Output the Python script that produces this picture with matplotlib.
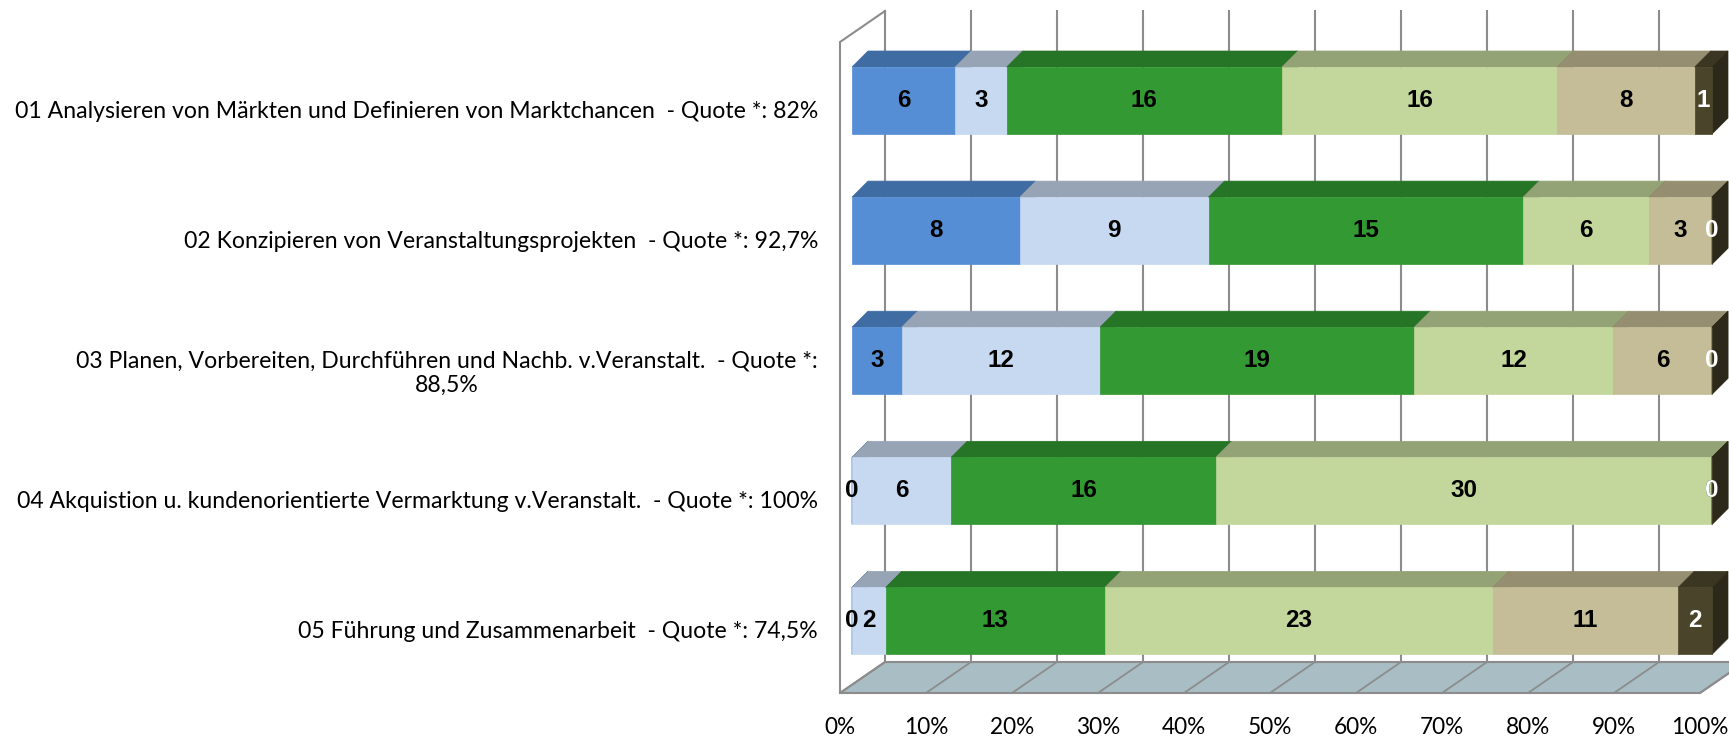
import numpy as np
import matplotlib.pyplot as plt
from matplotlib.patches import Polygon

# data
categories = [
    '01 Analysieren von Märkten und Definieren von Marktchancen  - Quote *: 82%',
    '02 Konzipieren von Veranstaltungsprojekten  - Quote *: 92,7%',
    '03 Planen, Vorbereiten, Durchführen und Nachb. v.Veranstalt.  - Quote *:\n88,5%',
    '04 Akquistion u. kundenorientierte Vermarktung v.Veranstalt.  - Quote *: 100%',
    '05 Führung und Zusammenarbeit  - Quote *: 74,5%',
]
seg1 = [6, 8, 3, 0, 0]
seg2 = [3, 9, 12, 6, 2]
seg3 = [16, 15, 19, 16, 13]
seg4 = [16, 6, 12, 30, 23]
seg5 = [8, 3, 6, 0, 11]
seg6 = [1, 0, 0, 0, 2]
x_ticks = [0, 10, 20, 30, 40, 50, 60, 70, 80, 90, 100]
x_tick_labels = ['%d%%' % t for t in x_ticks]

front_colors = ['#558ED5', '#C6D9F1', '#339933', '#C3D69B', '#C4BD97', '#4A452A']
top_colors = ['#3F6CA3', '#97A4B6', '#267526', '#94A375', '#958E71', '#3A3622']
side_colors = ['#345A8A', '#7F8A99', '#1F5F1F', '#7C8961', '#7D775E', '#2C291A']
label_colors = ['black', 'black', 'black', 'black', 'black', 'white']

# layout in pixels
W, H = 1729, 741
X0 = 840          # 0% on the front floor edge
X100 = 1700       # 100% on the front floor edge
FLOOR_Y = 693     # front floor edge
WALL_TOP = 11     # top of the back wall
ROW0_Y = 109.5
ROW_STEP = 130.1
sx = (X100 - X0) / 100.0


def dpx(dx, dy):
    # pixel offset -> data offset
    return dx / sx, dy / ROW_STEP


fig = plt.figure(figsize=(W / 100, H / 100), dpi=100)
ax = fig.add_axes([X0 / W, 1 - FLOOR_Y / H, (W - X0) / W, FLOOR_Y / H])
ax.set_xlim(0, (W - X0) / sx)
y_floor = (FLOOR_Y - ROW0_Y) / ROW_STEP
y_top = (WALL_TOP - ROW0_Y) / ROW_STEP
ax.set_ylim(y_floor, -ROW0_Y / ROW_STEP)
for s in ax.spines.values():
    s.set_visible(False)

wx, wy = dpx(45, -31)   # wall depth
fx, fy = dpx(12, -9)    # bar front plane
bx, by = dpx(16, -16)   # bar depth
hh = 33.5 / ROW_STEP    # half bar height

grid_col = '#8C8C8C'

# floor
ax.add_patch(Polygon([(0, y_floor), (100, y_floor), (100 + wx, y_floor + wy), (wx, y_floor + wy)],
                     closed=True, facecolor='#A9BDC4', edgecolor=grid_col, lw=1.5, zorder=1,
                     clip_on=False))
for t in x_ticks:
    ax.plot([t, t + wx], [y_floor, y_floor + wy], color=grid_col, lw=1.3, zorder=2, clip_on=False)
    # back wall gridlines
    ax.plot([t + wx, t + wx], [y_floor + wy, y_top], color=grid_col, lw=1.5, zorder=2, clip_on=False)

# left wall
ax.plot([0, 0, wx], [y_floor, y_top - wy, y_top], color=grid_col, lw=1.5, zorder=2, clip_on=False)

# bars
data = np.array([seg1, seg2, seg3, seg4, seg5, seg6], dtype=float)
totals = data.sum(axis=0)
for i in range(len(categories)):
    pct = data[:, i] / totals[i] * 100
    left = 0.0
    yc = i + fy
    yt, yb = yc - hh, yc + hh
    for k in range(len(pct)):
        x0 = left + fx
        x1 = left + pct[k] + fx
        ax.add_patch(Polygon([(x0, yt), (x1, yt), (x1 + bx, yt + by), (x0 + bx, yt + by)],
                             facecolor=top_colors[k], edgecolor=top_colors[k], lw=0.5, zorder=3,
                             clip_on=False))
        ax.add_patch(Polygon([(x1, yb), (x1, yt), (x1 + bx, yt + by), (x1 + bx, yb + by)],
                             facecolor=side_colors[k], edgecolor=side_colors[k], lw=0.5, zorder=3,
                             clip_on=False))
        ax.add_patch(Polygon([(x0, yb), (x1, yb), (x1, yt), (x0, yt)],
                             facecolor=front_colors[k], edgecolor=front_colors[k], lw=0.5, zorder=3,
                             clip_on=False))
        left += pct[k]
    # value labels
    left = 0.0
    for k in range(len(pct)):
        ax.text(left + pct[k] / 2 + fx, yc, '%d' % data[k, i], ha='center', va='center',
                fontsize=17.5, fontweight='bold', family='Liberation Sans',
                color=label_colors[k], zorder=5, clip_on=False)
        left += pct[k]

ax.set_yticks(range(len(categories)))
ax.set_yticklabels(categories, fontsize=16.6, family='Lato')
for lbl in ax.get_yticklabels():
    lbl.set_multialignment('center')
ax.set_xticks(x_ticks)
ax.set_xticklabels(x_tick_labels, fontsize=16.3, family='Lato')
ax.tick_params(axis='y', length=0, pad=15.8)
ax.tick_params(axis='x', length=0, pad=17.5)

fig.savefig('out.png', dpi=100)
